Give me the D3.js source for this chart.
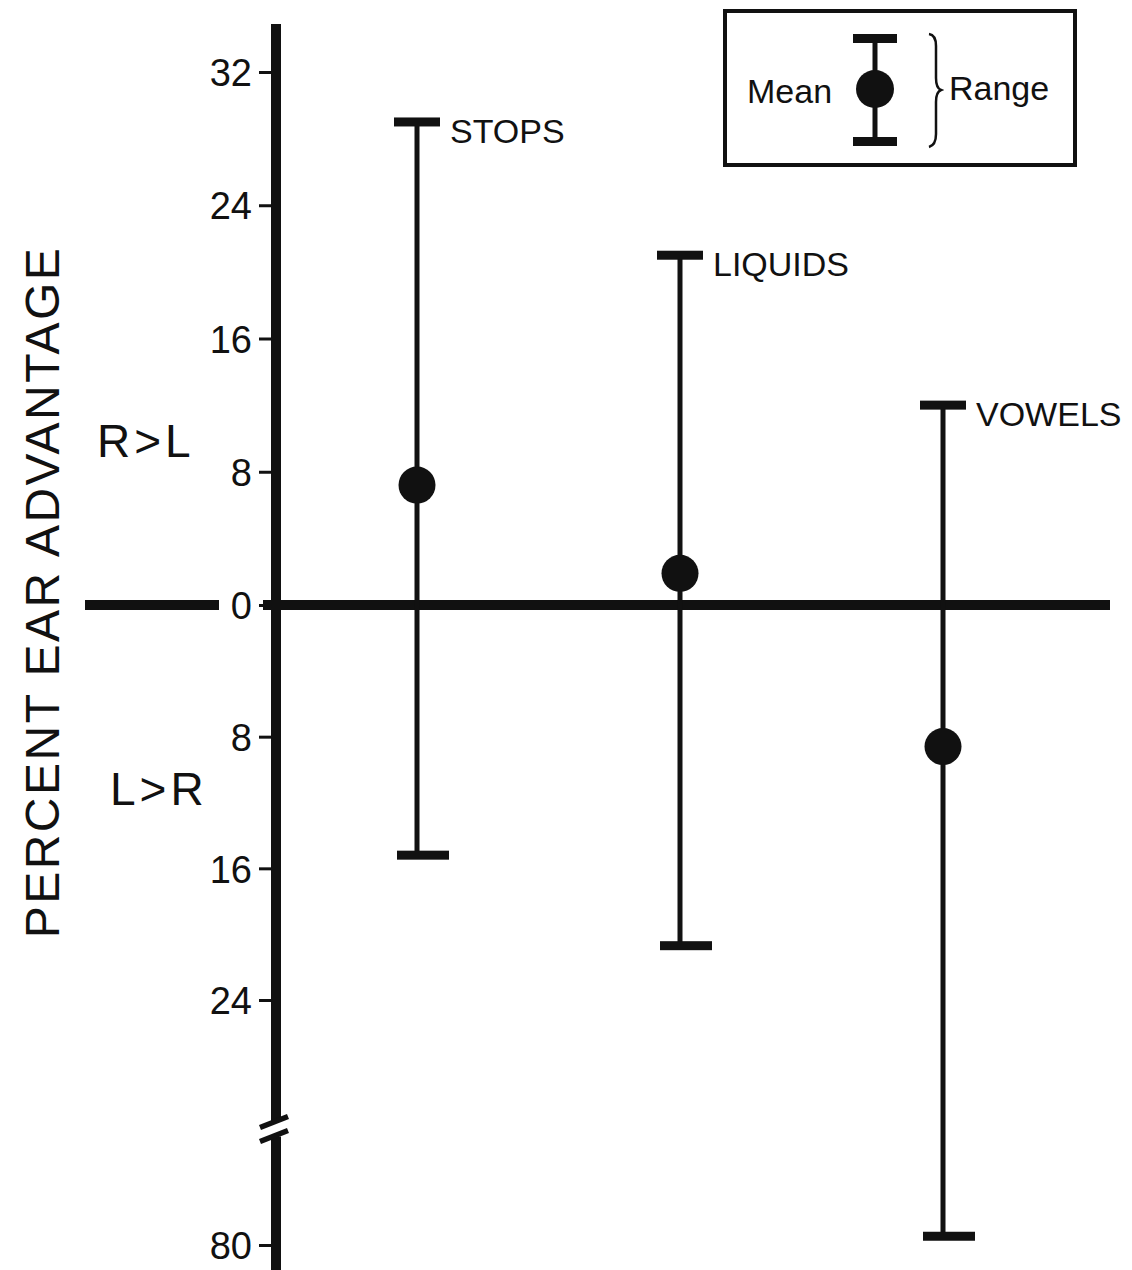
<!DOCTYPE html>
<html>
<head>
<meta charset="utf-8">
<script src="https://cdn.jsdelivr.net/npm/d3@7"></script>
<style>
  body { margin: 0; background: #fff; }
  svg text { font-family: "Liberation Sans", Arial, sans-serif; fill: #111; }
  .tick text { font-size: 38px; }
  .lbl { font-size: 34px; }
  .side { font-size: 46px; letter-spacing: 4px; }
  .title { font-size: 48px; letter-spacing: 2.5px; }
  .leg { font-size: 34px; }
</style>
</head>
<body>
<svg id="chart"></svg>
<script>
// data (positive = R>L, negative = L>R)
var categories = ["STOPS", "LIQUIDS", "VOWELS"];
var means = [7.2, 1.9, -8.6];
var rangeMax = [29, 21, 12];
var rangeMin = [-15.2, -20.7, -78];
var tickValues = [32, 24, 16, 8, 0, -8, -16, -24, -80];

var screen = {width: 1132, height: 1270};

var svg = d3.select("#chart")
    .attr("width", screen.width)
    .attr("height", screen.height);

// broken scale: -24 .. -80 compressed below the break
var yScale = d3.scaleLinear()
    .domain([32, 0, -24, -80])
    .range([72, 605, 1000, 1245]);

var xScale = d3.scalePoint()
    .domain(categories)
    .range([417, 943]);

var axisX = 271;

var rows = categories.map(function (c, i) {
    return {cat: c, mean: means[i], max: rangeMax[i], min: rangeMin[i]};
});

// zero line
var zeroY = yScale(0);
svg.append("line")
    .attr("x1", 85).attr("x2", 219)
    .attr("y1", zeroY).attr("y2", zeroY)
    .attr("stroke", "#111").attr("stroke-width", 10);
svg.append("line")
    .attr("x1", 263).attr("x2", 1110)
    .attr("y1", zeroY).attr("y2", zeroY)
    .attr("stroke", "#111").attr("stroke-width", 10);

// y axis
var yAxis = d3.axisLeft(yScale)
    .tickValues(tickValues)
    .tickFormat(function (d) { return Math.abs(d); })
    .tickSize(12)
    .tickPadding(7);

var axG = svg.append("g")
    .attr("transform", "translate(" + axisX + ",0)")
    .call(yAxis);
axG.select(".domain").remove();
axG.selectAll(".tick line").attr("stroke", "#111").attr("stroke-width", 3);
axG.selectAll(".tick text").attr("dy", "0.36em");

// thick axis line with a break
var breakY = (yScale(-24) + yScale(-80)) / 2 + 6;
svg.append("line")
    .attr("x1", axisX + 5).attr("x2", axisX + 5)
    .attr("y1", 24).attr("y2", breakY - 7)
    .attr("stroke", "#111").attr("stroke-width", 10);
svg.append("line")
    .attr("x1", axisX + 5).attr("x2", axisX + 5)
    .attr("y1", breakY + 8).attr("y2", screen.height)
    .attr("stroke", "#111").attr("stroke-width", 10);
[-7, 7].forEach(function (off) {
    svg.append("line")
        .attr("x1", axisX - 11).attr("y1", breakY + off + 6)
        .attr("x2", axisX + 17).attr("y2", breakY + off - 5)
        .attr("stroke", "#111").attr("stroke-width", 5.5);
});

// range bars
var bars = svg.append("g");
bars.selectAll("line.range")
    .data(rows)
    .enter()
    .append("line")
    .classed("range", true)
    .attr("x1", function (d) { return xScale(d.cat); })
    .attr("x2", function (d) { return xScale(d.cat); })
    .attr("y1", function (d) { return yScale(d.max); })
    .attr("y2", function (d) { return yScale(d.min); })
    .attr("stroke", "#111").attr("stroke-width", 5);

var capW = 46, capH = 9;
bars.selectAll("rect.top")
    .data(rows)
    .enter()
    .append("rect")
    .attr("x", function (d) { return xScale(d.cat) - capW / 2; })
    .attr("y", function (d) { return yScale(d.max) - capH / 2; })
    .attr("width", capW).attr("height", capH)
    .attr("fill", "#111");
bars.selectAll("rect.bot")
    .data(rows)
    .enter()
    .append("rect")
    .attr("x", function (d) { return xScale(d.cat) - capW / 2 + 3; })
    .attr("y", function (d) { return yScale(d.min) - capH / 2; })
    .attr("width", capW + 6).attr("height", capH)
    .attr("fill", "#111");

bars.selectAll("circle")
    .data(rows)
    .enter()
    .append("circle")
    .attr("cx", function (d) { return xScale(d.cat); })
    .attr("cy", function (d) { return yScale(d.mean); })
    .attr("r", 18.5)
    .attr("fill", "#111");

bars.selectAll("text")
    .data(rows)
    .enter()
    .append("text")
    .classed("lbl", true)
    .attr("x", function (d) { return xScale(d.cat) + 33; })
    .attr("y", function (d) { return yScale(d.max) + 21; })
    .text(function (d) { return d.cat; });

// side labels
var labels = svg.append("g");
labels.append("text").classed("side", true)
    .attr("x", 97).attr("y", 457).text("R>L");
labels.append("text").classed("side", true)
    .attr("x", 110).attr("y", 805).text("L>R");
labels.append("g")
    .attr("transform", "translate(59,592)")
    .append("text")
    .classed("title", true)
    .attr("text-anchor", "middle")
    .attr("transform", "rotate(-90)")
    .text("PERCENT EAR ADVANTAGE");

// legend
var leg = svg.append("g");
leg.append("rect")
    .attr("x", 725).attr("y", 11)
    .attr("width", 350).attr("height", 154)
    .attr("fill", "none").attr("stroke", "#111").attr("stroke-width", 4);
leg.append("line")
    .attr("x1", 875).attr("x2", 875).attr("y1", 38).attr("y2", 142)
    .attr("stroke", "#111").attr("stroke-width", 5);
leg.append("rect").attr("x", 853).attr("y", 34).attr("width", 44).attr("height", 9).attr("fill", "#111");
leg.append("rect").attr("x", 853).attr("y", 137).attr("width", 44).attr("height", 9).attr("fill", "#111");
leg.append("circle").attr("cx", 875).attr("cy", 89).attr("r", 19).attr("fill", "#111");
leg.append("path")
    .attr("d", "M929,34 Q936,35 936,46 L936,78 Q936,88 941,90 Q936,92 936,102 L936,134 Q936,145 929,147")
    .attr("fill", "none").attr("stroke", "#111").attr("stroke-width", 2.5);
leg.append("text").classed("leg", true).attr("x", 747).attr("y", 103).text("Mean");
leg.append("text").classed("leg", true).attr("x", 949).attr("y", 100).text("Range");
</script>
</body>
</html>
